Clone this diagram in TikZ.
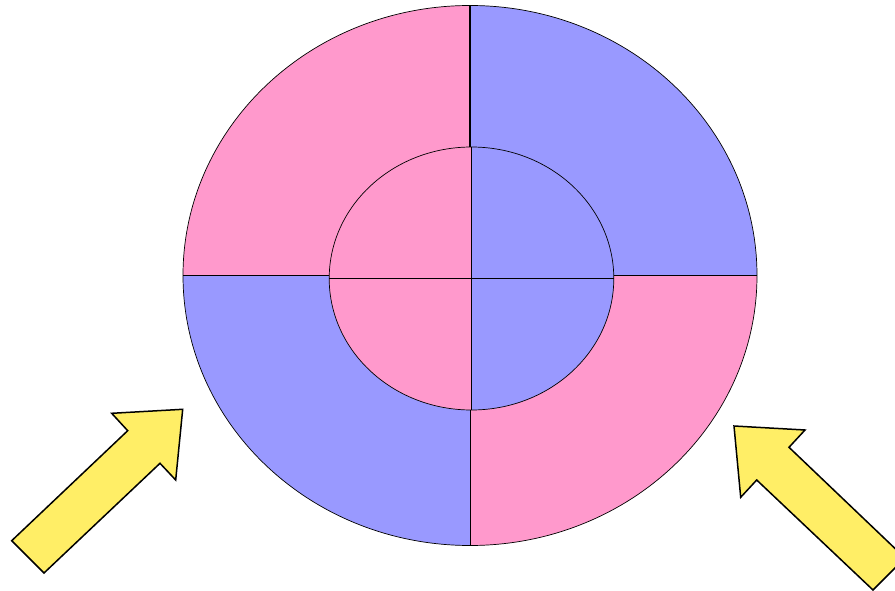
\documentclass[tikz,border=0pt]{standalone}
\definecolor{ringpink}{HTML}{FF99CC}
\definecolor{ringblue}{HTML}{9999FF}
\definecolor{arrowyellow}{HTML}{FFEE66}
\tikzset{
  pinkpart/.style={fill=ringpink},
  bluepart/.style={fill=ringblue},
  rimline/.style={draw=black, line width=0.7pt},
  fatarrow/.style={draw=black, fill=arrowyellow, line width=1.5pt, line join=miter}
}
\begin{document}
\begin{tikzpicture}[x=1pt, y=-1pt]
  \useasboundingbox (0,0) rectangle (895,591);
  \clip (0,0) rectangle (895,591);

  % outer ring, one quarter at a time
  \fill[pinkpart] (470,275.5) -- (470,5.5) arc[start angle=-90, end angle=-180, x radius=287, y radius=270] -- cycle;
  \fill[bluepart] (470,275.5) -- (470,5.5) arc[start angle=-90, end angle=0, x radius=287, y radius=270] -- cycle;
  \fill[pinkpart] (470,275.5) -- (757,275.5) arc[start angle=0, end angle=90, x radius=287, y radius=270] -- cycle;
  \fill[bluepart] (470,275.5) -- (183,275.5) arc[start angle=180, end angle=90, x radius=287, y radius=270] -- cycle;
  \draw[rimline] (470,275.5) ellipse[x radius=287, y radius=270];

  % inner disc
  \fill[pinkpart] (471.5,278.5) -- (471.5,147) arc[start angle=-90, end angle=-180, x radius=142.3, y radius=131.5] -- cycle;
  \fill[bluepart] (471.5,278.5) -- (471.5,147) arc[start angle=-90, end angle=0, x radius=142.3, y radius=131.5] -- cycle;
  \fill[bluepart] (471.5,278.5) -- (613.8,278.5) arc[start angle=0, end angle=90, x radius=142.3, y radius=131.5] -- cycle;
  \fill[pinkpart] (471.5,278.5) -- (329.2,278.5) arc[start angle=180, end angle=90, x radius=142.3, y radius=131.5] -- cycle;
  \draw[rimline] (471.5,278.5) ellipse[x radius=142.3, y radius=131.5];

  % dividing lines
  \draw[rimline, line width=1.3pt] (470,5.5) -- (470,147);
  \draw[rimline] (470,410) -- (470,545.5);
  \draw[rimline] (183,275) -- (329.2,275);
  \draw[rimline] (613.8,275) -- (757,275);
  \draw[rimline] (329.2,278) -- (613.8,278);
  \draw[rimline] (471.5,147) -- (471.5,410);

  % the two arrows
  \draw[fatarrow] (44,573) -- (11.7,540.7) -- (127.7,430.7) -- (111.7,413.3)
    -- (182.7,409.3) -- (175.7,480) -- (160,463.3) -- cycle;
  \draw[fatarrow] (734,426) -- (805,430) -- (789,447.3) -- (905,558)
    -- (873,590) -- (756.7,480) -- (740.7,497.3) -- cycle;

\end{tikzpicture}
\end{document}
